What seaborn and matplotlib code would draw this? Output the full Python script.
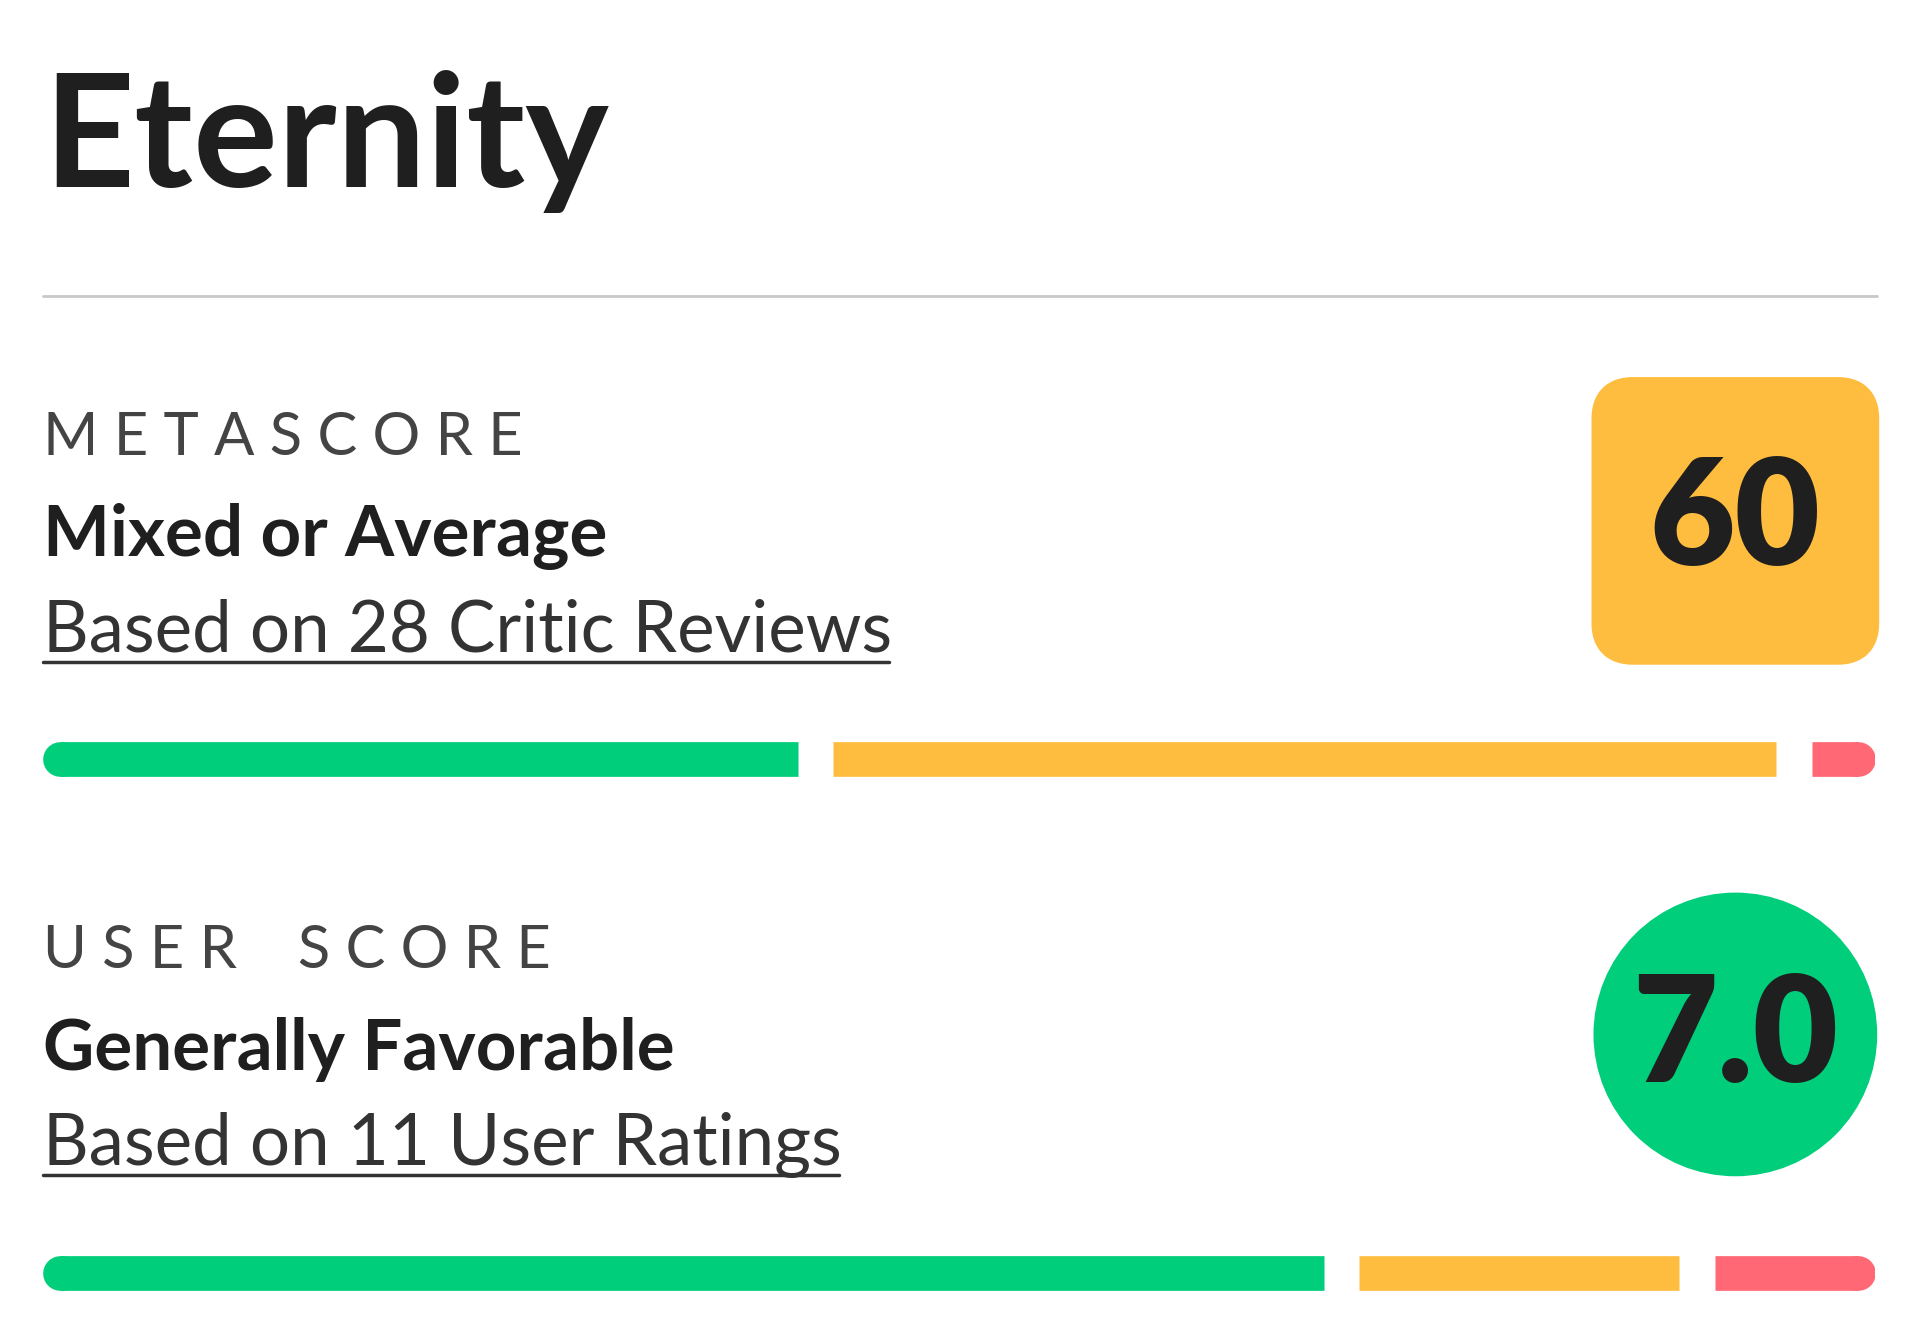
import matplotlib
matplotlib.use("Agg")
import matplotlib.pyplot as plt
import seaborn as sns
from matplotlib.patches import FancyBboxPatch, Circle

sns.set_theme(style="white")
plt.rcParams['font.family'] = ['Lato', 'DejaVu Sans']

title = "Eternity"
sections = ["METASCORE", "USER SCORE"]
verdicts = ["Mixed or Average", "Generally Favorable"]
basis = ["Based on 28 Critic Reviews", "Based on 11 User Ratings"]
scores = ["60", "7.0"]
critic_counts = [12, 15, 1]   # positive, mixed, negative
user_counts = [8, 2, 1]
seg_colors = ["#00CE7A", "#FFBD3F", "#FF6874"]

W, H = 1570, 1082
fig = plt.figure(figsize=(19.2, 13.23), dpi=100)
ax = fig.add_axes([0, 0, 1, 1])
ax.set_xlim(0, W); ax.set_ylim(H, 0); ax.axis("off")
dark = "#1f1f1f"

ax.text(35, 153, title, fontsize=114, fontweight="bold", color=dark, va="baseline")
ax.plot([35, 1535], [242, 242], color="#c8c8c8", lw=2)

def spaced(s):
    return " ".join(s).replace("   ", "    ")

for i, off in enumerate([0, 420]):
    ax.text(35, 372 + off, spaced(sections[i]), fontsize=43, color="#444444", va="baseline")
    ax.text(35, 455 + off, verdicts[i], fontsize=51, fontweight="bold", color=dark, va="baseline")
    ax.text(35, 533 + off, basis[i], fontsize=51, color="#333333", va="baseline")
fig.canvas.draw()
r = fig.canvas.get_renderer()
for i, off in enumerate([0, 420]):
    t = [tx for tx in ax.texts if tx.get_text() == basis[i]][0]
    bb = t.get_window_extent(r).transformed(ax.transData.inverted())
    ax.plot([35, bb.x1 - 2], [541 + off, 541 + off], color="#333333", lw=2.5)

ax.add_patch(FancyBboxPatch((1315, 322), 208, 208, boxstyle="round,pad=0,rounding_size=20",
                            fc="#FFBD3F", ec="#FFBD3F", lw=24, joinstyle="round"))
ax.text(1419, 462, scores[0], fontsize=106, fontweight="heavy", color=dark, ha="center", va="baseline")
ax.add_patch(Circle((1419, 846), 116, fc="#00CE7A", ec="none"))
ax.text(1419, 885, scores[1], fontsize=106, fontweight="heavy", color=dark, ha="center", va="baseline")

def bar(counts, y):
    bax = fig.add_axes([35 / W, 1 - (y + 20) / H, 1498 / W, 40 / H])
    bax.set_xlim(0, 1); bax.set_ylim(-1, 1); bax.axis("off")
    gap = 29 / 1498
    cap = 14 / 1498
    total = sum(counts)
    usable = 1 - 2 * gap
    left = 0
    for k, (c, col) in enumerate(zip(counts, seg_colors)):
        w = c / total * usable
        x0, x1 = left, left + w
        if k == 0:
            bax.plot([x0 + cap, x0 + cap + 0.001], [0, 0], color=col, lw=25, solid_capstyle="round")
            x0 += cap
        if k == len(counts) - 1:
            bax.plot([x1 - cap - 0.001, x1 - cap], [0, 0], color=col, lw=25, solid_capstyle="round")
            x1 -= cap
        bax.plot([x0, x1], [0, 0], color=col, lw=25, solid_capstyle="butt")
        left += w + gap

bar(critic_counts, 621)
bar(user_counts, 1041)

fig.savefig("out.png", dpi=100, facecolor="white")
